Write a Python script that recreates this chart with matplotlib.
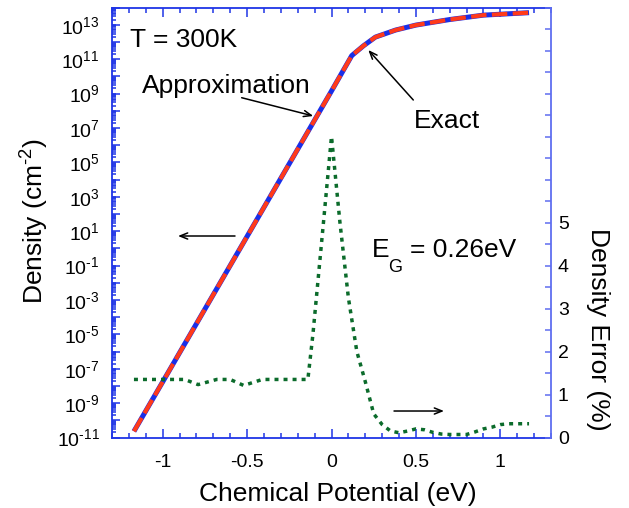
import numpy as np
import matplotlib
matplotlib.use("Agg")
import matplotlib.pyplot as plt
from matplotlib.ticker import FixedLocator, LogLocator, NullFormatter, FuncFormatter, MultipleLocator

plt.rcParams['font.family'] = ['Liberation Sans', 'DejaVu Sans']
plt.rcParams['mathtext.default'] = 'regular'
plt.rcParams['mathtext.fontset'] = 'custom'
plt.rcParams['mathtext.rm'] = 'Liberation Sans'
plt.rcParams['axes.unicode_minus'] = False

# ---- data ----
mu = [-1.17, -1.0, -0.5, 0.0, 0.12, 0.19, 0.26, 0.38, 0.50, 0.70, 0.90, 1.17]
exact_density = [2.3e-11, 1.7e-8, 4.9, 1.4e9, 1.6e11, 6.0e11, 1.9e12, 4.9e12, 9.5e12, 2.0e13, 3.6e13, 5.0e13]
approx_density = [2.3e-11, 1.7e-8, 4.9, 1.4e9, 1.6e11, 6.0e11, 1.9e12, 4.9e12, 9.5e12, 2.0e13, 3.6e13, 5.0e13]

mu_err = [-1.17, -0.87, -0.79, -0.68, -0.60, -0.52, -0.41, -0.14, -0.11, -0.05, 0.0,
          0.01, 0.05, 0.10, 0.15, 0.20, 0.25, 0.30, 0.35, 0.40, 0.45, 0.50, 0.55,
          0.60, 0.65, 0.70, 0.80, 0.85, 0.90, 0.95, 1.00, 1.05, 1.17]
density_error = [1.35, 1.35, 1.23, 1.35, 1.35, 1.21, 1.35, 1.35, 2.4, 4.9, 7.0,
                 6.6, 5.0, 3.25, 2.0, 1.3, 0.55, 0.30, 0.15, 0.11, 0.15, 0.20, 0.18,
                 0.12, 0.08, 0.07, 0.07, 0.13, 0.20, 0.24, 0.30, 0.32, 0.32]

x_ticks = [-1, -0.5, 0, 0.5, 1]
x_ticklabels = ['-1', '-0.5', '0', '0.5', '1']
err_ticklabels = ['0', '1', '2', '3', '4', '5']

BLUE_AX = '#1f35e6'
BLUE_R = '#5f6ef0'

fig = plt.figure(figsize=(6.29, 5.08), dpi=100)
ax = fig.add_axes([112/629, 1-437.5/508, 439/629, 430/508])

ax.plot(mu, exact_density, color='#1a2fe8', lw=3.6, solid_capstyle='butt', zorder=3)
ax.plot(mu, approx_density, color='#ff3a1a', lw=3.0, linestyle=(0, (3.7, 1.3)), zorder=4)
ax.set_yscale('log')
ax.set_ylim(1e-11, 1e14)
ax.set_xlim(-1.3, 1.3)

ax.xaxis.set_major_locator(FixedLocator(x_ticks))
ax.set_xticklabels(x_ticklabels)
ax.xaxis.set_minor_locator(MultipleLocator(0.1))
ax.yaxis.set_major_locator(LogLocator(base=10, numticks=40))
ax.yaxis.set_minor_locator(LogLocator(base=10, subs=np.arange(2, 10), numticks=400))
ax.yaxis.set_minor_formatter(NullFormatter())

def yfmt(v, pos):
    e = int(round(np.log10(v)))
    if e % 2 != 0:
        if e < 0:
            return r'$10^{\text{-}%d}$' % (-e)
        return '$10^{%d}$' % e
    return ''
ax.yaxis.set_major_formatter(FuncFormatter(yfmt))

ax.tick_params(axis='x', which='both', direction='in', top=True, bottom=True, color=BLUE_AX, width=1.1)
ax.tick_params(axis='x', which='major', length=6.5, pad=12, labelsize=14)
ax.tick_params(axis='x', which='minor', length=3.6)
ax.tick_params(axis='y', which='both', direction='in', left=True, right=False, color=BLUE_AX, width=1.1)
ax.tick_params(axis='y', which='major', length=5.5, pad=9, labelsize=14)
ax.tick_params(axis='y', which='minor', length=3)

for s in ['left', 'bottom', 'top']:
    ax.spines[s].set_color(BLUE_AX)
    ax.spines[s].set_linewidth(1.3)
ax.spines['right'].set_visible(False)

ax2 = ax.twinx()
ax2.plot(mu_err, density_error, color='#0b6b2b', lw=2.5, linestyle=(0, (1.15, 1.45)), dash_capstyle='butt')
ax2.set_ylim(0, 10)
ax2.yaxis.set_major_locator(FixedLocator(np.arange(0, 10.01, 0.5)))
ax2.yaxis.set_major_formatter(FuncFormatter(lambda v, p: err_ticklabels[int(round(v))] if (abs(v - round(v)) < 1e-6 and round(v) <= 5) else ''))
ax2.tick_params(axis='y', which='both', direction='in', right=True, left=False, color=BLUE_R, width=1.1,
                length=4.3, pad=5, labelsize=14)
for s in ['left', 'bottom', 'top']:
    ax2.spines[s].set_visible(False)
ax2.spines['right'].set_color(BLUE_R)
ax2.spines['right'].set_linewidth(1.3)

# axis labels
fig.text(338/629, 1-501/508, 'Chemical Potential (eV)', ha='center', va='baseline', fontsize=19)
fig.text(35/629, 1-221.5/508, r'Density (cm$^{\text{-}2}$)', ha='center', va='center', rotation=90, fontsize=19)
fig.text(598/629, 1-329.5/508, 'Density Error (%)', ha='center', va='center', rotation=-90, fontsize=19)

# annotations
ax.text(0.041, 0.9088, 'T = 300K', transform=ax.transAxes, fontsize=19, va='baseline', ha='left')
ax.text(0.0677, 0.8005, 'Approximation', transform=ax.transAxes, fontsize=19, va='baseline', ha='left')
ax.text(0.6886, 0.7205, 'Exact', transform=ax.transAxes, fontsize=19, va='baseline', ha='left')
ax.text(0.5916, 0.4205, 'E', transform=ax.transAxes, fontsize=19, va='baseline', ha='left')
ax.text(0.6287, 0.3856, 'G', transform=ax.transAxes, fontsize=13, va='baseline', ha='left')
ax.text(0.6788, 0.4205, '= 0.26eV', transform=ax.transAxes, fontsize=19, va='baseline', ha='left')

aprops = dict(arrowstyle='->,head_length=0.55,head_width=0.22', color='black', lw=1.1,
              shrinkA=0, shrinkB=0)
for tail, head in [((0.2954, 0.7902), (0.4585, 0.7477)),
                   ((0.6863, 0.7849), (0.5838, 0.9012)),
                   ((0.2802, 0.4686), (0.1503, 0.4686)),
                   ((0.6424, 0.0616), (0.7563, 0.0616))]:
    ax.annotate('', xy=head, xytext=tail, xycoords='axes fraction', textcoords='axes fraction',
                arrowprops=aprops, zorder=6)

fig.savefig('out.png', dpi=100)
